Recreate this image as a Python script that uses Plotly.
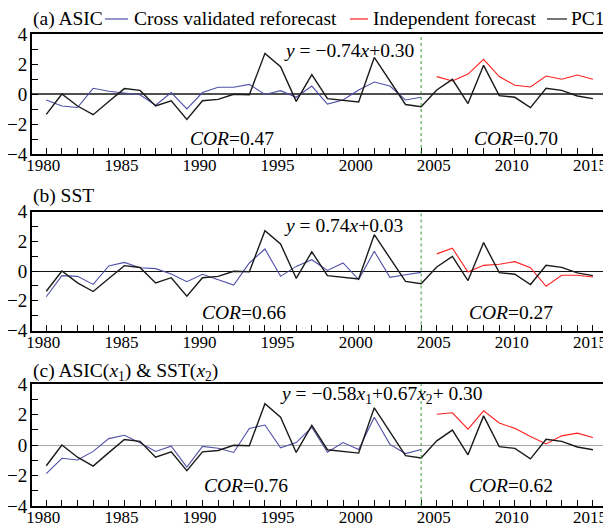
import plotly.graph_objects as go

# ---------------- data ----------------
years_all = list(range(1980, 2016))
years_cv = list(range(1980, 2005))
years_ind = list(range(2005, 2016))

pc1 = [-1.36, 0.0, -0.8, -1.38, -0.5, 0.36, 0.24, -0.8, -0.45, -1.69,
       -0.45, -0.36, -0.02, -0.05, 2.71, 1.82, -0.49, 1.29, -0.31, -0.4,
       -0.53, 2.44, 0.85, -0.7, -0.85, 0.27, 0.98, -0.64, 1.91, -0.11,
       -0.22, -0.91, 0.38, 0.24, -0.13, -0.31]

cv_asic = [-0.4, -0.8, -0.9, 0.38, 0.18, 0.08, -0.05, -0.75, 0.1, -1.0,
           0.1, 0.45, 0.45, 0.64, -0.03, 0.22, -0.22, 0.53, -0.67, -0.4,
           0.27, 0.8, 0.53, -0.4, -0.22]
ind_asic = [1.16, 0.87, 1.33, 2.31, 1.16, 0.58, 0.47, 1.2, 0.98, 1.27, 0.98]

cv_sst = [-1.73, -0.31, -0.36, -0.9, 0.34, 0.58, 0.22, 0.16, -0.2, -0.72,
          -0.22, -0.56, -0.94, 0.54, 1.48, -0.36, 0.31, 0.76, 0.04, 0.54,
          -0.58, 1.33, -0.43, -0.25, -0.09]
ind_sst = [1.15, 1.53, -0.07, 0.38, 0.45, 0.63, 0.22, -1.03, -0.29, -0.29, -0.4]

cv_both = [-1.87, -0.87, -0.98, -0.42, 0.42, 0.64, 0.15, -0.42, -0.08, -1.45,
           -0.09, -0.21, -0.49, 1.09, 1.31, -0.18, 0.16, 1.16, -0.47, 0.16,
           -0.29, 1.82, 0.04, -0.56, -0.29]
ind_both = [2.02, 2.11, 1.04, 2.24, 1.44, 1.09, 0.56, 0.07, 0.6, 0.78, 0.49]

x_tick_vals = [1980, 1985, 1990, 1995, 2000, 2005, 2010, 2015]
x_tick_text = ["1980", "1985", "1990", "1995", "2000", "2005", "2010", "2015"]

panel_titles = ["(a) ASIC", "(b) SST",
                "(c) ASIC(<i>x</i><sub>1</sub>) & SST(<i>x</i><sub>2</sub>)"]
equations = ["<i>y</i> = \u22120.74<i>x</i>+0.30",
             "<i>y</i> = 0.74<i>x</i>+0.03",
             "<i>y</i> = \u22120.58<i>x</i><sub>1</sub>+0.67<i>x</i><sub>2</sub>+ 0.30"]
cor_cv = ["0.47", "0.66", "0.76"]
cor_ind = ["0.70", "0.27", "0.62"]
legend_names = ["Cross validated reforecast", "Independent forecast", "PC1"]

# ---------------- styling ----------------
# the page body adds an 8px offset; target coordinates below are in screenshot pixels
OFF = 8
W, H = 611 - OFF, 528 - OFF
L, R, T, B = 32, 607, 34, 506          # plot area in screenshot pixels
ML, MR, MT, MB = L - OFF, 611 - R, T - OFF, 528 - B
PW, PH = W - ML - MR, H - MT - MB
FONT = "Liberation Serif, Times New Roman, serif"
BLUE, RED, BLACK, GREEN = "#5050a8", "#ff2020", "#1a1a1a", "#3a9a3a"
zero_colors = ["#505050", "#111111", "#a8a8a8"]
zero_widths = [1.6, 1.0, 1.0]


def px(x):
    return (x - L) / PW


def py(y):
    return (B - y) / PH


panel_px = [(34, 154), (211.5, 330.5), (384, 506)]
domains = [[max(0, py(b)), min(1, py(t))] for t, b in panel_px]

fig = go.Figure()
cv_sets = [cv_asic, cv_sst, cv_both]
ind_sets = [ind_asic, ind_sst, ind_both]

for i in range(3):
    xa = "x" if i == 0 else f"x{i+1}"
    ya = "y" if i == 0 else f"y{i+1}"
    fig.add_trace(go.Scatter(x=years_cv, y=cv_sets[i], mode="lines",
                             line=dict(color=BLUE, width=1.1),
                             name=legend_names[0], xaxis=xa, yaxis=ya,
                             showlegend=False))
    fig.add_trace(go.Scatter(x=years_ind, y=ind_sets[i], mode="lines",
                             line=dict(color=RED, width=1.1),
                             name=legend_names[1], xaxis=xa, yaxis=ya,
                             showlegend=False))
    fig.add_trace(go.Scatter(x=years_all, y=pc1, mode="lines",
                             line=dict(color=BLACK, width=1.4),
                             name=legend_names[2], xaxis=xa, yaxis=ya,
                             showlegend=False))

layout = dict(width=W, height=H,
              margin=dict(l=ML, r=MR, t=MT, b=MB, autoexpand=False),
              paper_bgcolor="white", plot_bgcolor="white",
              font=dict(family=FONT, size=19, color="black"),
              showlegend=False)

for i in range(3):
    sx = "" if i == 0 else str(i + 1)
    layout["xaxis" + sx] = dict(
        domain=[0, 1], anchor="y" + sx, range=[1979.085, 2015.9],
        automargin=False, ticklabeloverflow="allow",
        tickmode="array", tickvals=x_tick_vals, ticktext=x_tick_text,
        ticks="inside", ticklen=6, tickwidth=1, tickcolor="black",
        minor=dict(dtick=1, tick0=1980, ticks="inside", ticklen=6,
                   tickwidth=1, tickcolor="black", showgrid=False),
        showline=True, linewidth=1.8, linecolor="black", mirror=True,
        showgrid=False, zeroline=False, ticklabelstandoff=-5,
        ticklabelshift=-3,
        tickfont=dict(family=FONT, size=17, color="black"))
    layout["yaxis" + sx] = dict(
        domain=domains[i], anchor="x" + sx, range=[-4, 4],
        automargin=False, ticklabeloverflow="allow",
        tickmode="linear", tick0=-4, dtick=2,
        ticks="inside", ticklen=6, tickwidth=1, tickcolor="black",
        minor=dict(dtick=1, tick0=-4, ticks="inside", ticklen=6,
                   tickwidth=1, tickcolor="black", showgrid=False),
        showline=True, linewidth=1.8, linecolor="black", mirror=True,
        showgrid=False, zeroline=True, zerolinecolor=zero_colors[i],
        zerolinewidth=zero_widths[i], ticklabelstandoff=-1,
        tickfont=dict(family=FONT, size=19, color="black"))

fig.update_layout(**layout)

shapes = []
annotations = []
title_y = [19, 196, 372]
eq_pos = [(282, 50), (282, 225), (278, 395)]
cor_y = [138, 312, 485]
cor_cv_x = [188, 200, 202]
cor_ind_x = [472, 467, 467]

for i in range(3):
    sx = "" if i == 0 else str(i + 1)
    shapes.append(dict(type="line", xref="x" + sx, yref=f"y{sx} domain",
                       x0=2004, x1=2004, y0=0, y1=1,
                       line=dict(color=GREEN, width=1, dash="dot")))
    annotations.append(dict(text=panel_titles[i], xref="paper", yref="paper",
                            x=px(32), y=py(title_y[i]), xanchor="left",
                            yanchor="middle", showarrow=False,
                            font=dict(size=19.5), xshift=-1))
    annotations.append(dict(text=equations[i], xref="paper", yref="paper",
                            x=px(eq_pos[i][0]), y=py(eq_pos[i][1]),
                            xanchor="left", yanchor="middle", showarrow=False,
                            font=dict(size=19.5)))
    annotations.append(dict(text="<i>COR</i>=" + cor_cv[i], xref="paper",
                            yref="paper", x=px(cor_cv_x[i]), y=py(cor_y[i]),
                            xanchor="left", yanchor="middle", showarrow=False,
                            font=dict(size=19.5)))
    annotations.append(dict(text="<i>COR</i>=" + cor_ind[i], xref="paper",
                            yref="paper", x=px(cor_ind_x[i]), y=py(cor_y[i]),
                            xanchor="left", yanchor="middle", showarrow=False,
                            font=dict(size=19.5)))

# legend row (panel a header)
leg_items = [(105, 128, 133, BLUE, legend_names[0]),
             (350, 368, 372, RED, legend_names[1]),
             (547, 567, 570, BLACK, legend_names[2])]
for x0, x1, tx, col, name in leg_items:
    shapes.append(dict(type="line", xref="paper", yref="paper",
                       x0=px(x0), x1=px(x1), y0=py(19), y1=py(19),
                       line=dict(color=col, width=1.2)))
    annotations.append(dict(text=name, xref="paper", yref="paper",
                            x=px(tx), y=py(19), xanchor="left",
                            yanchor="middle", showarrow=False,
                            font=dict(size=19.5), xshift=-1))

fig.update_layout(shapes=shapes, annotations=annotations)
fig.write_html("out.html")
